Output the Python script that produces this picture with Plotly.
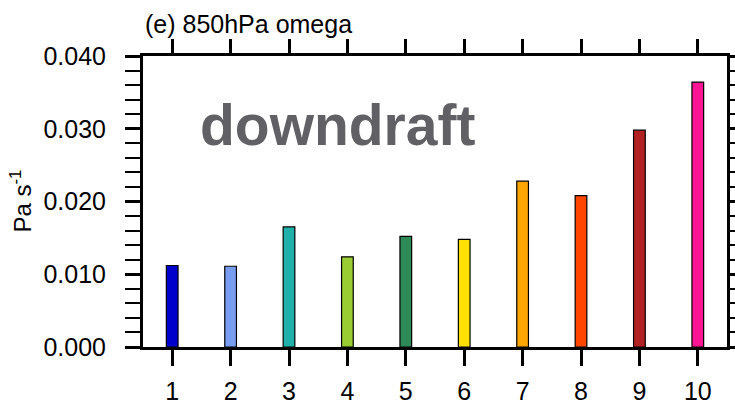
import plotly.graph_objects as go

categories = [1, 2, 3, 4, 5, 6, 7, 8, 9, 10]
values = [0.0112, 0.0111, 0.0165, 0.0124, 0.0152, 0.0148, 0.0228, 0.0208, 0.0298, 0.0364]
bar_colors = ["#0000CD", "#789CF0", "#20B2AA", "#9ACD32", "#2E8B57",
              "#FFE000", "#FFA500", "#FF4500", "#B22222", "#FF1493"]
y_ticks = [0.0, 0.01, 0.02, 0.03, 0.04]
y_ticklabels = ["0.000", "0.010", "0.020", "0.030", "0.040"]

FONT = "Liberation Sans, Arial, Helvetica, sans-serif"

fig = go.Figure()
fig.add_trace(go.Bar(
    x=categories, y=values, width=0.2,
    marker=dict(color=bar_colors, line=dict(color="black", width=1.2)),
    showlegend=False,
))
# invisible trace to carry the top axis
fig.add_trace(go.Scatter(x=categories, y=values, xaxis="x2", mode="markers",
                         marker=dict(opacity=0), showlegend=False, hoverinfo="skip"))

fig.update_layout(
    width=735, height=405,
    margin=dict(l=143, r=8, t=56, b=58),
    paper_bgcolor="white", plot_bgcolor="white",
    font=dict(family=FONT, color="black", size=22),
    xaxis=dict(
        range=[0.5, 10.5], tickmode="array", tickvals=categories,
        ticktext=[str(c) for c in categories],
        showline=True, linewidth=3, linecolor="black", mirror=True,
        ticks="outside", ticklen=16, tickwidth=3, tickcolor="black",
        showgrid=False, zeroline=False, tickfont=dict(size=25),
        ticklabelstandoff=4, automargin=False,
    ),
    xaxis2=dict(
        range=[0.5, 10.5], tickmode="array", tickvals=categories,
        overlaying="x", side="top", showticklabels=False,
        showline=False, ticks="outside", ticklen=16, tickwidth=3, tickcolor="black",
        showgrid=False, zeroline=False, automargin=False,
    ),
    yaxis=dict(
        range=[0, 0.04], tickmode="array", tickvals=y_ticks, ticktext=y_ticklabels,
        showline=True, linewidth=3, linecolor="black", mirror="allticks",
        ticks="outside", ticklen=15, tickwidth=3, tickcolor="black",
        minor=dict(ticks="outside", ticklen=7, tickwidth=1.5, tickcolor="black", dtick=0.002, tick0=0),
        showgrid=False, zeroline=False, tickfont=dict(size=25),
        ticklabelstandoff=14, automargin=False,
    ),
    annotations=[
        dict(text="(e) 850hPa omega", xref="paper", yref="paper", x=0, y=1.0,
             xanchor="left", yanchor="bottom", yshift=16, showarrow=False,
             font=dict(size=25, color="black")),
        dict(text="Pa s<sup>-1</sup>", xref="paper", yref="paper",
             x=(20 - 143) / 584, y=0.5, xanchor="center", yanchor="middle",
             textangle=-90, showarrow=False, font=dict(size=24, color="black")),
        dict(text="<b>downdraft</b>", xref="x", yref="y", x=3.83, y=0.0305,
             xanchor="center", yanchor="middle", showarrow=False,
             font=dict(size=57, color="#616165")),
    ],
)

fig.write_html("out.html", config={"displayModeBar": False},
               post_script="document.body.style.margin='0';document.body.style.overflow='hidden';")
